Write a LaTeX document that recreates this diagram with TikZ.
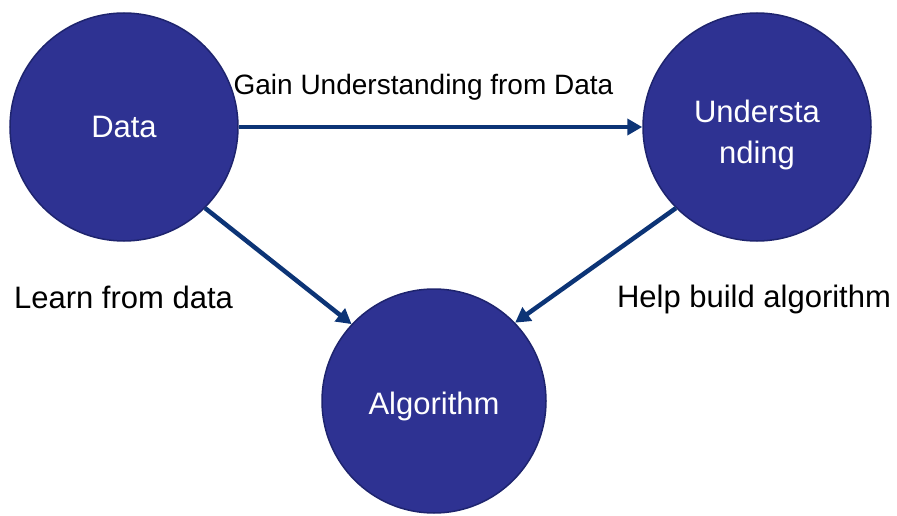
\documentclass[tikz,border=0pt]{standalone}
\usepackage{fontspec}
\setmainfont{Liberation Sans}
\usetikzlibrary{arrows.meta}
\definecolor{circfill}{RGB}{46,50,146}
\definecolor{circedge}{RGB}{30,36,110}
\definecolor{arrowcol}{RGB}{12,52,118}
\tikzset{
  bubble/.style={circle, fill=circfill, draw=circedge, line width=1.5pt, inner sep=0pt,
    minimum size=228pt, text=white, font=\fontsize{31}{41}\selectfont, align=center},
  conn/.style={draw=arrowcol, line width=4.5pt, -{Triangle[length=15pt,width=16pt]}},
  lbl/.style={text=black, inner sep=0pt, anchor=base},
}
\begin{document}
\begin{tikzpicture}[x=1pt,y=-1pt]
\useasboundingbox (0,0) rectangle (897,516);
\node[bubble] (data) at (124,127) {Data};
\node[bubble] (und) at (757,127) {\rule{0pt}{39pt}Understa\\nding};
\node[bubble, minimum size=224pt] (alg) at (434,401) {\rule{0pt}{34pt}Algorithm};
\draw[conn] (data.east) -- (und.west);
\draw[conn] (data.-45) -- (alg.137);
\draw[conn] (und.-135) -- (alg.44);
\node[lbl, font=\fontsize{28}{34}\selectfont] (t1) at (423.5,95) {Gain Understanding from Data};
\node[lbl, font=\fontsize{31}{37}\selectfont] (t2) at (123.5,308) {Learn from data};
\node[lbl, font=\fontsize{31}{37}\selectfont] (t3) at (754,307) {Help build algorithm};
\end{tikzpicture}
\end{document}
